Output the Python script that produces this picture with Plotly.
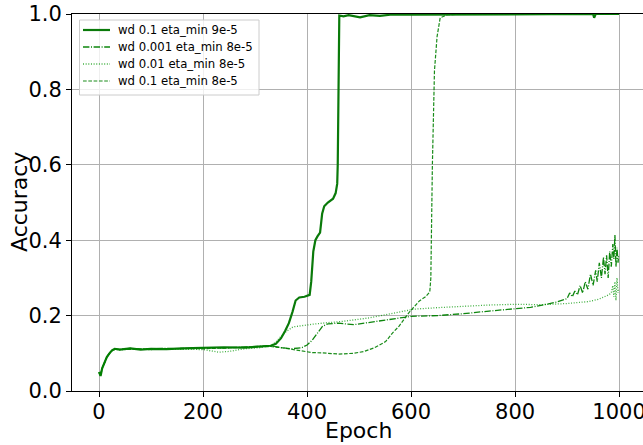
import plotly.graph_objects as go

# ---- data ----
ep_solid = [0, 3, 6, 10, 15, 20, 25, 30, 40, 60, 80, 100, 130, 160, 200, 240, 280, 310, 330, 340,
            350, 358, 365, 372, 378, 385, 395, 405, 408, 412, 416, 420, 425, 429, 433, 440, 450, 455,
            458, 459, 460, 462, 470, 480, 502, 520, 540, 560, 600, 700, 800, 900, 950, 952, 955, 1000]
acc_solid = [0.05, 0.04, 0.06, 0.075, 0.09, 0.10, 0.108, 0.112, 0.110, 0.113, 0.110, 0.112, 0.111, 0.113,
             0.114, 0.116, 0.115, 0.118, 0.120, 0.125, 0.14, 0.16, 0.18, 0.21, 0.24, 0.248, 0.25, 0.255,
             0.29, 0.37, 0.40, 0.41, 0.42, 0.47, 0.49, 0.50, 0.51, 0.525, 0.55, 0.60, 0.85, 0.996, 0.994,
             0.997, 0.991, 0.997, 0.995, 0.998, 0.998, 0.999, 1.0, 1.0, 1.0, 0.99, 1.0, 1.0]

ep_dashdot = [0, 3, 6, 10, 15, 20, 25, 30, 40, 60, 80, 100, 130, 160, 200, 240, 280, 310, 330, 350,
              370, 390, 400, 410, 420, 430, 440, 460, 490, 520, 560, 600, 650, 700, 750, 800, 830, 860,
              880, 900, 905, 910, 915, 920, 925, 930, 935, 940, 945, 950, 955, 958, 962, 966, 970, 973,
              976, 979, 982, 985, 988, 990, 992, 994, 996, 998, 999]
acc_dashdot = [0.05, 0.045, 0.06, 0.075, 0.09, 0.10, 0.108, 0.112, 0.110, 0.113, 0.111, 0.112, 0.113,
               0.112, 0.115, 0.114, 0.117, 0.118, 0.120, 0.115, 0.112, 0.115, 0.122, 0.135, 0.155, 0.172,
               0.178, 0.180, 0.176, 0.182, 0.190, 0.198, 0.200, 0.205, 0.212, 0.218, 0.222, 0.230, 0.236,
               0.245, 0.260, 0.250, 0.265, 0.255, 0.280, 0.260, 0.290, 0.270, 0.310, 0.280, 0.320, 0.290,
               0.340, 0.300, 0.355, 0.310, 0.360, 0.300, 0.370, 0.330, 0.390, 0.350, 0.414, 0.330, 0.380,
               0.340, 0.360]

ep_dotted = [0, 3, 6, 10, 15, 20, 25, 30, 40, 60, 80, 100, 130, 160, 200, 230, 250, 280, 310, 330, 340,
             350, 360, 373, 390, 410, 430, 470, 520, 560, 605, 650, 700, 750, 800, 850, 900, 940, 960,
             970, 980, 985, 988, 990, 992, 994, 996, 998, 999]
acc_dotted = [0.05, 0.04, 0.06, 0.075, 0.09, 0.10, 0.107, 0.110, 0.109, 0.111, 0.110, 0.110, 0.111, 0.110,
              0.110, 0.103, 0.105, 0.112, 0.115, 0.120, 0.130, 0.145, 0.158, 0.170, 0.174, 0.177, 0.180,
              0.185, 0.194, 0.205, 0.217, 0.221, 0.225, 0.228, 0.230, 0.229, 0.232, 0.237, 0.243, 0.248,
              0.255, 0.260, 0.280, 0.250, 0.290, 0.240, 0.300, 0.260, 0.270]

ep_dashed = [0, 3, 6, 10, 15, 20, 25, 30, 40, 60, 80, 100, 130, 160, 200, 240, 280, 310, 330, 350, 370,
             390, 410, 430, 460, 490, 510, 530, 551, 565, 577, 596, 616, 628, 636, 638, 641, 645, 650, 656,
             670, 700, 800, 900, 1000]
acc_dashed = [0.05, 0.04, 0.06, 0.075, 0.09, 0.10, 0.107, 0.110, 0.110, 0.112, 0.110, 0.111, 0.112, 0.113,
              0.112, 0.114, 0.116, 0.117, 0.118, 0.115, 0.110, 0.105, 0.102, 0.101, 0.098, 0.100, 0.105,
              0.115, 0.131, 0.155, 0.172, 0.208, 0.239, 0.250, 0.263, 0.30, 0.60, 0.85, 0.94, 0.99,
              0.998, 1.0, 1.0, 1.0, 1.0]

labels = ["wd 0.1 eta_min 9e-5", "wd 0.001 eta_min 8e-5", "wd 0.01 eta_min 8e-5", "wd 0.1 eta_min 8e-5"]
x_ticks = [0, 200, 400, 600, 800, 1000]
y_ticks = [0.0, 0.2, 0.4, 0.6, 0.8, 1.0]

FONT = "DejaVu Sans"
W, H = 643, 445
ML, MR, MT, MB = 72, 0, 14, 54
PW, PH = W - ML - MR, H - MT - MB


def px_x(x):
    return (x - ML) / PW


def px_y(y):
    return (H - MB - y) / PH


styles = [
    dict(color="#0a7a0a", width=2.2, dash="solid"),
    dict(color="rgba(0,128,0,0.95)", width=1.3, dash="6.4px,1.6px,1px,1.6px"),
    dict(color="rgba(0,150,0,0.75)", width=1.3, dash="1px,1.65px"),
    dict(color="rgba(0,128,0,0.9)", width=1.2, dash="3.7px,1.6px"),
]
series = [(ep_solid, acc_solid), (ep_dashdot, acc_dashdot), (ep_dotted, acc_dotted), (ep_dashed, acc_dashed)]

fig = go.Figure()
for (xs, ys), name, st in zip(series, labels, styles):
    fig.add_trace(go.Scatter(x=xs, y=ys, mode="lines", name=name, line=st, showlegend=False))

# legend (drawn as shapes + text for matplotlib-like spacing)
shapes = [dict(type="rect", xref="paper", yref="paper",
               x0=px_x(79.5), x1=px_x(259), y0=px_y(95), y1=px_y(20),
               fillcolor="rgba(255,255,255,0.8)", line=dict(color="#cccccc", width=1), layer="above")]
annotations = []
row_y = [30, 47, 64, 81]
for name, st, ry in zip(labels, styles, row_y):
    shapes.append(dict(type="line", xref="paper", yref="paper",
                       x0=px_x(83), x1=px_x(110), y0=px_y(ry), y1=px_y(ry),
                       line=dict(color=st["color"], width=st["width"], dash=st["dash"]), layer="above"))
    annotations.append(dict(text=name, xref="paper", yref="paper", x=px_x(116), y=px_y(ry),
                            xanchor="left", yanchor="middle", showarrow=False,
                            font=dict(family=FONT, size=11.7, color="black")))

# axis titles
annotations.append(dict(text="Epoch", xref="paper", yref="paper", x=px_x(358), y=px_y(430.5),
                        xanchor="center", yanchor="middle", showarrow=False,
                        font=dict(family=FONT, size=22, color="black")))
annotations.append(dict(text="Accuracy", xref="paper", yref="paper", x=px_x(19.5), y=0.5,
                        xanchor="center", yanchor="middle", textangle=-90, showarrow=False,
                        font=dict(family=FONT, size=22, color="black")))

fig.update_layout(
    width=W, height=H,
    margin=dict(l=ML, r=MR, t=MT, b=MB),
    paper_bgcolor="white", plot_bgcolor="white",
    font=dict(family=FONT, color="black"),
    showlegend=False,
    shapes=shapes, annotations=annotations,
)
fig.update_xaxes(
    range=[-52, 1046], tickvals=x_ticks, ticktext=[str(v) for v in x_ticks],
    showgrid=True, gridcolor="#b0b0b0", gridwidth=1, zeroline=False,
    showline=True, linecolor="black", linewidth=1, mirror=True,
    ticks="outside", ticklen=5, tickcolor="black", tickfont=dict(size=21, family=FONT),
    ticklabeloverflow="allow", ticklabelstandoff=-3, automargin=False,
)
fig.update_yaxes(
    range=[0, 1], tickvals=y_ticks, ticktext=[f"{v:.1f}" for v in y_ticks],
    showgrid=True, gridcolor="#b0b0b0", gridwidth=1, zeroline=False,
    showline=True, linecolor="black", linewidth=1,
    ticks="outside", ticklen=5, tickcolor="black", tickfont=dict(size=21, family=FONT),
    ticklabeloverflow="allow", automargin=False,
)

fig.write_html("out.html")
